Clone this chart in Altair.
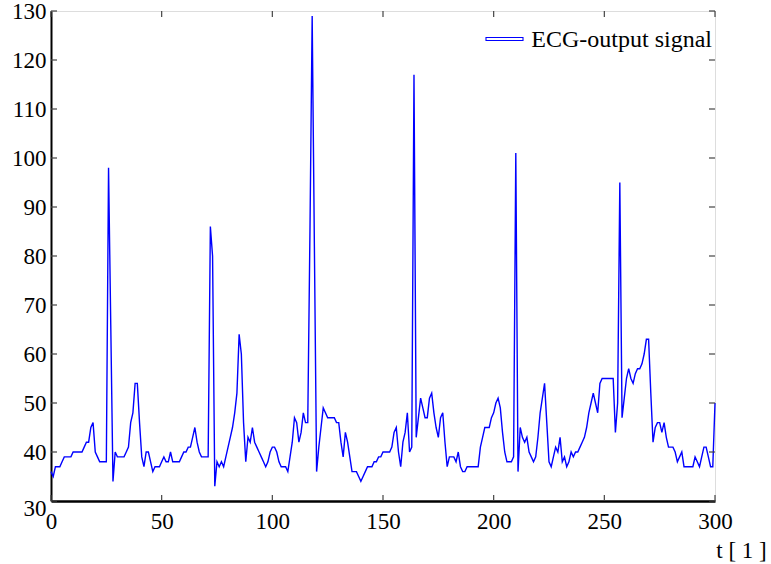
import altair as alt
import pandas as pd

# ECG samples (index t, value)
ecg_values = [
    36, 35, 37, 37, 37, 38, 39, 39, 39, 39,
    40, 40, 40, 40, 40, 41, 42, 42, 45, 46,
    40, 39, 38, 38, 38, 38, 98, 66, 34, 40,
    39, 39, 39, 39, 40, 41, 46, 48, 54, 54,
    46, 39, 37, 40, 40, 38, 36, 37, 37, 37,
    38, 39, 38, 38, 40, 38, 38, 38, 38, 39,
    40, 40, 41, 41, 43, 45, 42, 40, 39, 39,
    39, 39, 86, 80, 33, 38, 37, 38, 37, 39,
    41, 43, 45, 48, 52, 64, 60, 46, 38, 43,
    42, 45, 42, 41, 40, 39, 38, 37, 38, 40,
    41, 41, 40, 38, 37, 37, 37, 36, 39, 42,
    47, 46, 42, 44, 48, 46, 46, 85, 129, 82,
    36, 41, 45, 49, 48, 47, 47, 47, 47, 46,
    46, 42, 39, 44, 42, 39, 36, 36, 36, 35,
    34, 35, 36, 37, 37, 37, 38, 38, 39, 39,
    40, 40, 40, 40, 41, 44, 45, 40, 37, 42,
    44, 48, 40, 41, 117, 43, 47, 51, 49, 47,
    47, 51, 52, 48, 45, 43, 47, 48, 42, 37,
    39, 39, 39, 38, 40, 37, 36, 36, 37, 37,
    37, 37, 37, 37, 41, 43, 45, 45, 45, 47,
    48, 50, 51, 49, 44, 40, 38, 38, 38, 39,
    101, 36, 45, 43, 42, 43, 40, 39, 38, 39,
    43, 48, 51, 54, 46, 38, 37, 39, 41, 40,
    43, 38, 39, 37, 38, 40, 39, 40, 40, 41,
    42, 43, 45, 48, 50, 52, 50, 48, 54, 55,
    55, 55, 55, 55, 55, 44, 50, 95, 47, 51,
    55, 57, 55, 54, 56, 57, 57, 58, 60, 63,
    63, 52, 42, 45, 46, 46, 44, 46, 43, 41,
    41, 41, 40, 38, 39, 40, 37, 37, 37, 37,
    37, 39, 38, 37, 39, 41, 41, 39, 37, 37,
    50,
]
t_index = list(range(len(ecg_values)))

x_ticks = [0, 50, 100, 150, 200, 250, 300]
y_ticks = [30, 40, 50, 60, 70, 80, 90, 100, 110, 120, 130]
legend_label = "ECG-output signal"
x_title = "t  [ 1 ]"

FONT = "Liberation Serif"
W, H = 664, 490
TL = 6

df = pd.DataFrame({"t": t_index, "v": ecg_values})
xt = pd.DataFrame({"x": x_ticks})
yt = pd.DataFrame({"y": y_ticks})

xscale = alt.Scale(domain=[0, 300], nice=False, zero=False)
yscale = alt.Scale(domain=[30, 130], nice=False, zero=False)

line = alt.Chart(df).mark_line(color="#0000ff", strokeWidth=1.4).encode(
    x=alt.X("t:Q", scale=xscale,
            axis=alt.Axis(values=x_ticks, ticks=False, tickSize=0, grid=False,
                          domainColor="black", domainWidth=2.4,
                          labelFont=FONT, labelFontSize=23, labelColor="black",
                          labelPadding=9, labelFlush=False,
                          title=x_title, titleFont=FONT, titleFontSize=23,
                          titleFontWeight="normal", titleColor="black",
                          titleX=690, titleY=49, titleAlign="center",
                          titleBaseline="middle")),
    y=alt.Y("v:Q", scale=yscale,
            axis=alt.Axis(values=y_ticks, ticks=False, tickSize=0, grid=False,
                          domainColor="black", domainWidth=2,
                          labelFont=FONT, labelFontSize=23, labelColor="black",
                          labelPadding=5, labelFlush=False,
                          labelOffset={"condition": {"test": "datum.value == 30", "value": 7}, "value": 0},
                          title=None)),
)

tick_color = "#444444"
bottom_ticks = alt.Chart(xt).mark_rule(color=tick_color, strokeWidth=1.2).encode(
    x=alt.X("x:Q", scale=xscale), y=alt.value(H), y2=alt.value(H - TL))
top_ticks = alt.Chart(xt).mark_rule(color=tick_color, strokeWidth=1.2).encode(
    x=alt.X("x:Q", scale=xscale), y=alt.value(0), y2=alt.value(TL))
left_ticks = alt.Chart(yt).mark_rule(color=tick_color, strokeWidth=1.2).encode(
    y=alt.Y("y:Q", scale=yscale), x=alt.value(0), x2=alt.value(TL))
right_ticks = alt.Chart(yt).mark_rule(color=tick_color, strokeWidth=1.2).encode(
    y=alt.Y("y:Q", scale=yscale), x=alt.value(W), x2=alt.value(W - TL))

leg = pd.DataFrame({"label": [legend_label]})
leg_sym = alt.Chart(leg).mark_rect(fill="white", stroke="#0000ff", strokeWidth=1.1).encode(
    x=alt.value(435), x2=alt.value(472), y=alt.value(26.5), y2=alt.value(29.5))
leg_text = alt.Chart(leg).mark_text(font=FONT, fontSize=24, align="right",
                                    baseline="middle", color="black").encode(
    x=alt.value(661), y=alt.value(29), text="label:N")

chart = alt.layer(line, bottom_ticks, top_ticks, left_ticks, right_ticks,
                  leg_sym, leg_text).properties(
    width=W, height=H,
    padding={"left": 51, "top": 11, "right": 56, "bottom": 63},
    autosize=alt.AutoSizeParams(type="none"),
).configure_view(stroke="black", strokeWidth=1.5).configure(background="white")

chart.save("out.html", embed_options={"renderer": "svg", "actions": False})
